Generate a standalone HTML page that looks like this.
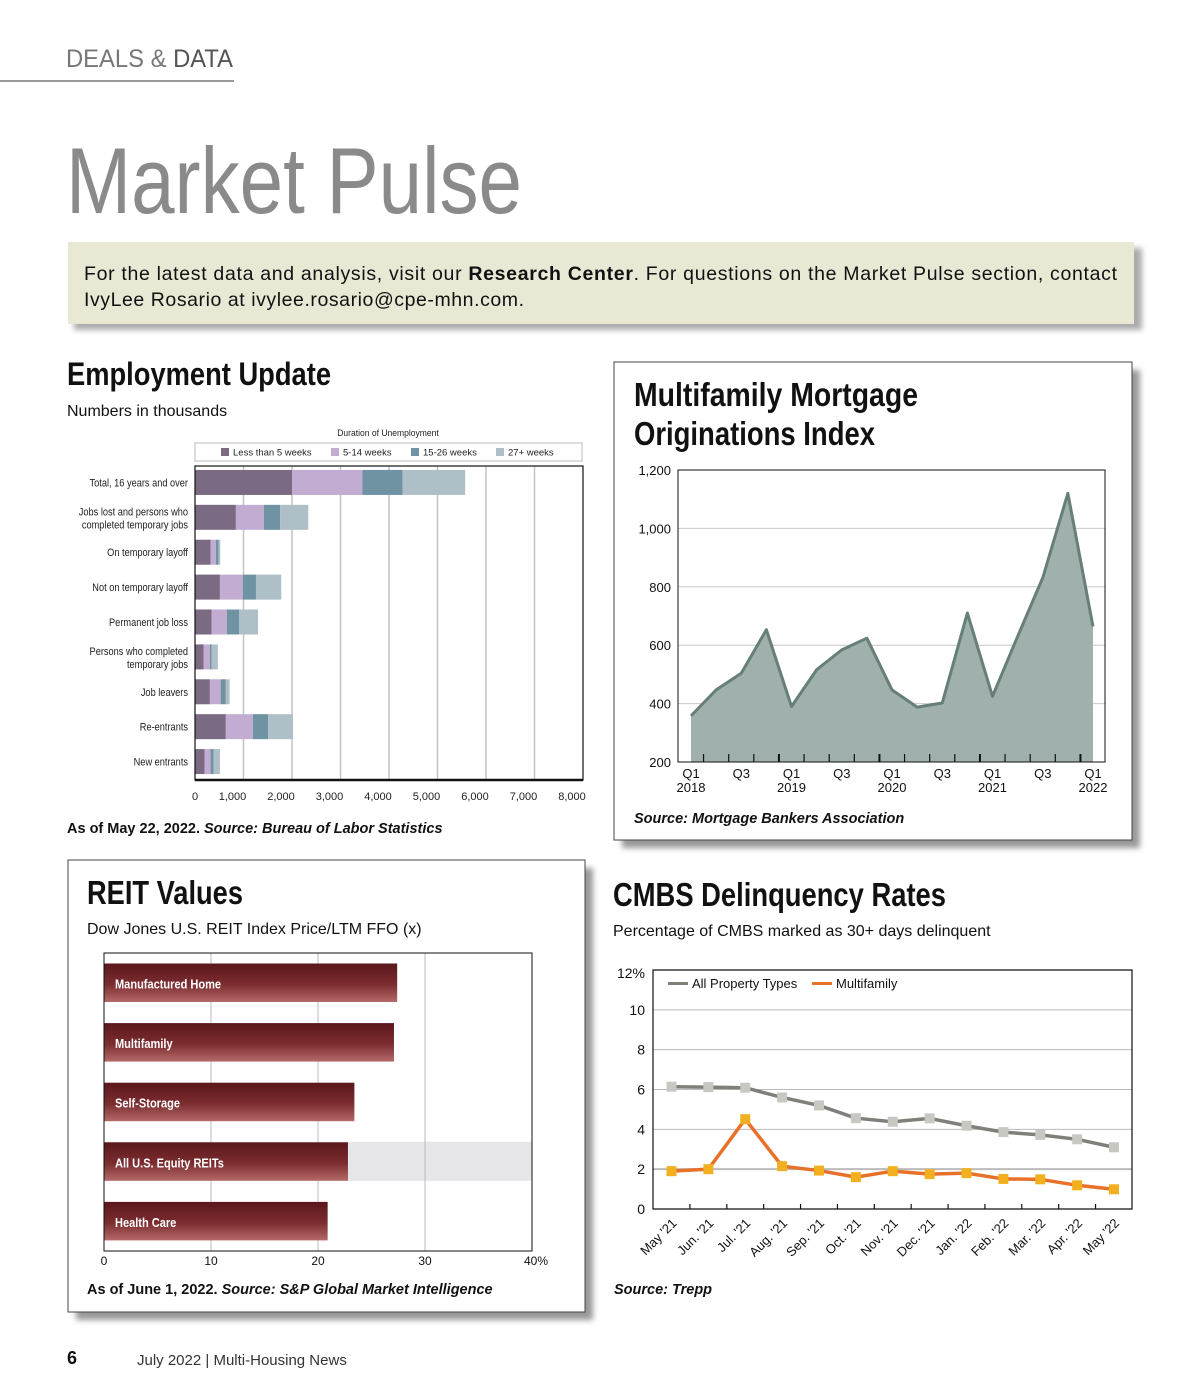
<!DOCTYPE html>
<html><head><meta charset="utf-8"><style>
html,body{margin:0;padding:0;background:#fff;}
svg{display:block;font-family:"Liberation Sans",sans-serif;}
</style></head><body>
<svg id="pg" width="1200" height="1400" viewBox="0 0 1200 1400" xmlns="http://www.w3.org/2000/svg">
<defs>
<linearGradient id="rg" x1="0" y1="0" x2="0" y2="1"><stop offset="0" stop-color="#5a171b"/><stop offset="0.55" stop-color="#7c2d30"/><stop offset="1" stop-color="#b46a68"/></linearGradient>
<filter id="sh" x="-5%" y="-5%" width="115%" height="115%"><feGaussianBlur stdDeviation="3"/></filter>
</defs>
<text x="66" y="67" font-size="25" fill="#555" textLength="167" lengthAdjust="spacingAndGlyphs"><tspan fill="#777">DEALS &amp; </tspan>DATA</text>
<line x1="0" y1="81" x2="234" y2="81" stroke="#333" stroke-width="1"/>
<text x="66" y="213" font-size="94" fill="#8a8a8a" textLength="456" lengthAdjust="spacingAndGlyphs">Market Pulse</text>
<rect x="74" y="248" width="1068" height="82" fill="#aaa" filter="url(#sh)"/>
<rect x="68" y="242" width="1066" height="82" fill="#e9e8d5"/>
<text x="84" y="280" font-size="19.5" fill="#111" textLength="1033" lengthAdjust="spacing">For the latest data and analysis, visit our <tspan font-weight="bold">Research Center</tspan>. For questions on the Market Pulse section, contact</text>
<text x="84" y="306" font-size="19.5" fill="#111" textLength="440" lengthAdjust="spacing">IvyLee Rosario at <tspan>ivylee.rosario@cpe-mhn.com</tspan>.</text>

<text x="67" y="385" font-size="32" font-weight="bold" fill="#111" textLength="264" lengthAdjust="spacingAndGlyphs">Employment Update</text>
<text x="67" y="416" font-size="16" fill="#111">Numbers in thousands</text>
<g id="emp"></g>
<text x="67" y="833" font-size="14.5" font-weight="bold" fill="#111">As of May 22, 2022. <tspan font-style="italic">Source: Bureau of Labor Statistics</tspan></text>

<rect x="622" y="370" width="518" height="478" fill="#999" filter="url(#sh)"/>
<rect x="614" y="362" width="518" height="478" fill="#fff" stroke="#444" stroke-width="1"/>
<text x="634" y="406" font-size="33" font-weight="bold" fill="#111" textLength="284" lengthAdjust="spacingAndGlyphs">Multifamily Mortgage</text>
<text x="634" y="445" font-size="33" font-weight="bold" fill="#111" textLength="241" lengthAdjust="spacingAndGlyphs">Originations Index</text>
<g id="mort"></g>
<text x="634" y="823" font-size="14.5" font-weight="bold" font-style="italic" fill="#111">Source: Mortgage Bankers Association</text>

<rect x="76" y="868" width="517" height="452" fill="#999" filter="url(#sh)"/>
<rect x="68" y="860" width="517" height="452" fill="#fff" stroke="#444" stroke-width="1"/>
<text x="87" y="904" font-size="33" font-weight="bold" fill="#111" textLength="156" lengthAdjust="spacingAndGlyphs">REIT Values</text>
<text x="87" y="934" font-size="16" fill="#111">Dow Jones U.S. REIT Index Price/LTM FFO (x)</text>
<g id="reit"></g>
<text x="87" y="1294" font-size="14.5" font-weight="bold" fill="#111">As of June 1, 2022. <tspan font-style="italic">Source: S&amp;P Global Market Intelligence</tspan></text>

<text x="613" y="906" font-size="33" font-weight="bold" fill="#111" textLength="333" lengthAdjust="spacingAndGlyphs">CMBS Delinquency Rates</text>
<text x="613" y="936" font-size="16" fill="#111">Percentage of CMBS marked as 30+ days delinquent</text>
<g id="cmbs"></g>
<text x="614" y="1294" font-size="14.5" font-weight="bold" font-style="italic" fill="#111">Source: Trepp</text>

<text x="67" y="1364" font-size="18" font-weight="bold" fill="#111">6</text>
<text x="137" y="1365" font-size="15" fill="#333">July 2022  |  Multi-Housing News</text>
</svg>
<script>
const NS="http://www.w3.org/2000/svg";
function mk(parent,tag,a,txt){const e=document.createElementNS(NS,tag);for(const k in a)e.setAttribute(k,a[k]);if(txt!==undefined)e.textContent=txt;parent.appendChild(e);return e;}
function sx(cx,s){return `translate(${cx},0) scale(${s},1) translate(${-cx},0)`;}

const empCategories=[["Total, 16 years and over"],["Jobs lost and persons who","completed temporary jobs"],["On temporary layoff"],["Not on temporary layoff"],["Permanent job loss"],["Persons who completed","temporary jobs"],["Job leavers"],["Re-entrants"],["New entrants"]];
const empSeriesNames=["Less than 5 weeks","5-14 weeks","15-26 weeks","27+ weeks"];
const empLess5=[2000,843,321,514,343,179,307,636,200];
const emp5to14=[1450,578,108,472,314,128,222,557,121];
const emp15to26=[830,336,57,271,250,36,107,314,65];
const emp27plus=[1290,579,35,522,393,128,78,514,128];
const empTicks=[0,1000,2000,3000,4000,5000,6000,7000,8000];
const empTickLabels=["0","1,000","2,000","3,000","4,000","5,000","6,000","7,000","8,000"];
const empColors=["#7a6a82","#c2acd2","#6f93a3","#afbfc8"];
(function(){
 const g=document.getElementById('emp');
 const L=195,R=583,T=466,B=780;
 const x=v=>L+(v/8000)*(R-L);
 const rowH=(B-T)/empCategories.length;
 const yc=i=>T+rowH*(i+0.5)-1;
 let t=mk(g,'text',{x:388,y:436,'font-size':9.5,'text-anchor':'middle',fill:'#222',transform:sx(388,0.9)},"Duration of Unemployment");
 
 let lb=mk(g,'rect',{x:195,y:443,width:387,height:18,fill:'#fff',stroke:'#bbb'});
 
 const lx=[221,331,411,496];
 empSeriesNames.forEach((n,i)=>{
  const s=mk(g,'rect',{x:lx[i],y:448,width:8,height:8,fill:empColors[i]});
  
  const tt=mk(g,'text',{x:lx[i]+12,y:455.5,'font-size':9.5,fill:'#222'},n);
  
 });
 empTicks.forEach((v,i)=>{
  if(i>0&&i<empTicks.length-1){const gl=mk(g,'line',{x1:x(v),y1:T,x2:x(v),y2:B,stroke:'#c4c4c4','stroke-width':1.5});
  }
  const tl=mk(g,'text',{x:i==0?x(v):x(v)-11,y:800,'font-size':11,'text-anchor':'middle',fill:'#222'},empTickLabels[i]);
  
 });
 const series=[empLess5,emp5to14,emp15to26,emp27plus];
 empCategories.forEach((c,i)=>{
  let acc=0;
  series.forEach((s,j)=>{
   const r=mk(g,'rect',{x:x(acc),y:yc(i)-12.5,width:x(acc+s[i])-x(acc),height:25,fill:empColors[j]});
   
   acc+=s[i];
  });
  const lt=mk(g,'text',{x:188,'font-size':11,'text-anchor':'end',fill:'#222',transform:sx(188,0.84)});
  
  if(c.length==1){mk(lt,'tspan',{x:188,y:yc(i)+4},c[0]);}
  else{mk(lt,'tspan',{x:188,y:yc(i)-2},c[0]);mk(lt,'tspan',{x:188,y:yc(i)+11},c[1]);}
 });
 const fr=mk(g,'rect',{x:L,y:T,width:R-L,height:B-T,fill:'none',stroke:'#111','stroke-width':1.2});
 
 const ax=mk(g,'line',{x1:L,y1:B,x2:R,y2:B,stroke:'#111','stroke-width':2.5});
 
})();

const mortQuarters=["Q1 2018","Q2 2018","Q3 2018","Q4 2018","Q1 2019","Q2 2019","Q3 2019","Q4 2019","Q1 2020","Q2 2020","Q3 2020","Q4 2020","Q1 2021","Q2 2021","Q3 2021","Q4 2021","Q1 2022"];
const mortValues=[358,447,504,653,390,516,584,624,447,388,402,710,425,630,831,1120,664];
const mortYTicks=[200,400,600,800,1000,1200];
const mortYLabels=["200","400","600","800","1,000","1,200"];
const mortXLabels=[["Q1","2018"],["Q3",""],["Q1","2019"],["Q3",""],["Q1","2020"],["Q3",""],["Q1","2021"],["Q3",""],["Q1","2022"]];
(function(){
 const g=document.getElementById('mort');
 const L=678,R=1105,T=470,B=762;
 const y=v=>B-(v-200)/1000*(B-T);
 const x0=691,x1=1093;
 const x=i=>x0+i*(x1-x0)/(mortQuarters.length-1);
 mortYTicks.forEach((v,i)=>{
  if(i>0&&i<mortYTicks.length-1){const gl=mk(g,'line',{x1:L,y1:y(v),x2:R,y2:y(v),stroke:'#c8c8c8'});
  }
  const tl=mk(g,'text',{x:671,y:y(v)+5,'font-size':13,'text-anchor':'end',fill:'#111'},mortYLabels[i]);
  
 });
 let pts=mortValues.map((v,i)=>x(i)+','+y(v)).join(' ');
 const ar=mk(g,'polygon',{points:x(0)+','+B+' '+pts+' '+x(mortValues.length-1)+','+B,fill:'#9fb0ad'});
 
 const ln=mk(g,'polyline',{points:pts,fill:'none',stroke:'#667f78','stroke-width':3,'stroke-linejoin':'round'});
 
 const fr=mk(g,'path',{d:`M${L},${T}H${R}V${B}H${L}Z`,fill:'none',stroke:'#111','stroke-width':1});
 
 for(let i=0;i<mortQuarters.length-1;i++){
  const tx=(x(i)+x(i+1))/2;
  const tk=mk(g,'line',{x1:tx,y1:B-8,x2:tx,y2:B,stroke:'#111','stroke-width':i%4==3?2:1.2});
  
 }
 mortXLabels.forEach((l,k)=>{
  const t=mk(g,'text',{x:x(k*2),'font-size':13,'text-anchor':'middle',fill:'#111'});
  
  mk(t,'tspan',{x:x(k*2),y:778},l[0]);
  if(l[1])mk(t,'tspan',{x:x(k*2),y:792},l[1]);
 });
})();

const reitCategories=["Manufactured Home","Multifamily","Self-Storage","All U.S. Equity REITs","Health Care"];
const reitValues=[27.4,27.1,23.4,22.8,20.9];
const reitTicks=[0,10,20,30,40];
const reitTickLabels=["0","10","20","30","40%"];
(function(){
 const g=document.getElementById('reit');
 const L=104,R=532,T=953,B=1251;
 const x=v=>L+v/40*(R-L);
 const rowH=(B-T)/reitCategories.length;
 const hl=mk(g,'rect',{x:L,y:T+rowH*3+10,width:R-L,height:39,fill:'#e6e6e8'});
 
 reitTicks.forEach((v,i)=>{
  if(i>0&&i<reitTicks.length-1){const gl=mk(g,'line',{x1:x(v),y1:T,x2:x(v),y2:B,stroke:'#bbb'});
  }
  const tl=mk(g,'text',{x:x(v)+(i==4?4:0),y:1265,'font-size':12,'text-anchor':'middle',fill:'#111'},reitTickLabels[i]);
  
 });
 reitCategories.forEach((c,i)=>{
  const by=T+rowH*i+10.5;
  const r=mk(g,'rect',{x:L,y:by,width:x(reitValues[i])-L,height:38.5,fill:'url(#rg)'});
  
  const t=mk(g,'text',{x:115,y:by+25,'font-size':13,'font-weight':'bold',fill:'#fff',transform:sx(115,0.85)},c);
  
 });
 const fr=mk(g,'path',{d:`M${L},${B}V${T}H${R}V${B}Z`,fill:'none',stroke:'#111','stroke-width':1});
 
})();

const cmbsMonths=["May '21","Jun. '21","Jul. '21","Aug. '21","Sep. '21","Oct. '21","Nov. '21","Dec. '21","Jan. '22","Feb. '22","Mar. '22","Apr. '22","May '22"];
const cmbsAll=[6.14,6.12,6.09,5.6,5.2,4.56,4.38,4.55,4.18,3.86,3.72,3.5,3.1];
const cmbsMF=[1.9,2.0,4.51,2.15,1.93,1.6,1.9,1.75,1.8,1.51,1.49,1.19,0.99];
const cmbsYTicks=[0,2,4,6,8,10,12];
const cmbsYLabels=["0","2","4","6","8","10","12%"];
(function(){
 const g=document.getElementById('cmbs');
 const L=653,R=1132,T=970,B=1209;
 const y=v=>B-v/12*(B-T);
 const x0=671.5,x1=1114;
 const x=i=>x0+i*(x1-x0)/(cmbsMonths.length-1);
 cmbsYTicks.forEach((v,i)=>{
  if(i>0&&i<cmbsYTicks.length-1){const gl=mk(g,'line',{x1:L,y1:y(v),x2:R,y2:y(v),stroke:'#bbb','stroke-width':v==2?2:1});
  }
  const tl=mk(g,'text',{x:645,y:y(v)+(i==6?8:5),'font-size':14,'text-anchor':'end',fill:'#111'},cmbsYLabels[i]);
  
 });
 const fr=mk(g,'path',{d:`M${L},${T}H${R}V${B}H${L}Z`,fill:'none',stroke:'#111','stroke-width':1.2});
 
 for(let i=0;i<cmbsMonths.length-1;i++){
  const tx=(x(i)+x(i+1))/2;
  const tk=mk(g,'line',{x1:tx,y1:B,x2:tx,y2:B-5,stroke:'#111','stroke-width':1.2});
  
 }
 const la=mk(g,'polyline',{points:cmbsAll.map((v,i)=>x(i)+','+y(v)).join(' '),fill:'none',stroke:'#80807a','stroke-width':3.5});
 
 const lm=mk(g,'polyline',{points:cmbsMF.map((v,i)=>x(i)+','+y(v)).join(' '),fill:'none',stroke:'#e8712a','stroke-width':3.5});
 
 cmbsAll.forEach((v,i)=>{const m=mk(g,'rect',{x:x(i)-5,y:y(v)-5,width:10,height:10,fill:'#c8c8c2'});
  });
 cmbsMF.forEach((v,i)=>{const m=mk(g,'rect',{x:x(i)-5,y:y(v)-5,width:10,height:10,fill:'#f2b021'});
  });
 cmbsMonths.forEach((m,i)=>{
  const tx=x(i)+6,ty=1224;
  const t=mk(g,'text',{x:tx,y:ty,'font-size':13,'text-anchor':'end',fill:'#111',transform:`rotate(-45 ${tx} ${ty})`},m);
  
 });
 const l1=mk(g,'line',{x1:668,y1:983.5,x2:688,y2:983.5,stroke:'#80807a','stroke-width':3});
 
 const t1=mk(g,'text',{x:692,y:988,'font-size':13,fill:'#111'},"All Property Types");
 
 const l2=mk(g,'line',{x1:812,y1:983.5,x2:832,y2:983.5,stroke:'#e8712a','stroke-width':3});
 
 const t2=mk(g,'text',{x:836,y:988,'font-size':13,fill:'#111'},"Multifamily");
 
})();
</script>
</body></html>
